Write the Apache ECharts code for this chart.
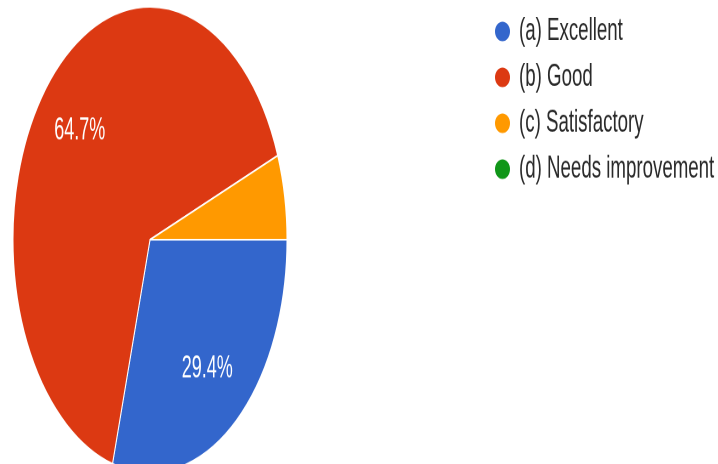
<!DOCTYPE html>
<html>
<head>
<meta charset="utf-8">
<script src="https://cdn.jsdelivr.net/npm/echarts@6/dist/echarts.min.js"></script>
<style>
  html, body { margin: 0; padding: 0; background: #ffffff; overflow: hidden; }
  #wrap { width: 718px; height: 464px; overflow: hidden; position: relative; }
  #chart { width: 718px; height: 273px; transform: scaleY(1.7); transform-origin: 0 0; }
</style>
</head>
<body>
<div id="wrap"><div id="chart"></div></div>
<script>
const categories = ['(a) Excellent', '(b) Good', '(c) Satisfactory', '(d) Needs improvement'];
const counts = [5, 11, 1, 0];
const colors = ['#3366cc', '#dc3912', '#ff9900', '#109618'];

const pieData = categories.map((name, i) => ({ name: name, value: counts[i] }));
const legendData = categories.map(name => ({ name: name, symbolKeepAspect: false }));

const chart = echarts.init(document.getElementById('chart'), null, { devicePixelRatio: 2 });
chart.setOption({
  backgroundColor: '#ffffff',
  animation: false,
  color: colors,
  legend: {
    orient: 'vertical',
    left: 493,
    top: 8.5,
    padding: 0,
    data: legendData,
    icon: 'path://M50,0A50,50,0,1,1,50,100A50,50,0,1,1,50,0Z',
    symbolKeepAspect: false,
    itemWidth: 17,
    itemHeight: 13.5,
    itemGap: 7,
    textStyle: { fontFamily: 'Liberation Sans, Arial, sans-serif', fontSize: 18.7, color: '#2a2a2a', lineHeight: 20, padding: [0, 0, 0, 3] },
    selectedMode: false
  },
  series: [
    {
      type: 'pie',
      center: [150, 141],
      radius: [0, 137],
      startAngle: 0,
      clockwise: true,
      avoidLabelOverlap: false,
      label: { show: false },
      labelLine: { show: false },
      itemStyle: { borderColor: '#ffffff', borderWidth: 1 },
      emphasis: { disabled: true },
      data: pieData
    },
    {
      type: 'pie',
      center: [150, 141],
      radius: [48, 136],
      startAngle: 0,
      clockwise: true,
      silent: true,
      legendHoverLink: false,
      avoidLabelOverlap: false,
      itemStyle: { color: 'rgba(0,0,0,0)', borderWidth: 0 },
      labelLine: { show: false },
      label: {
        show: true,
        position: 'inside',
        color: '#ffffff',
        fontFamily: 'Liberation Sans, Arial, sans-serif',
        fontSize: 18,
        formatter: function (p) { return p.percent >= 10 ? p.percent.toFixed(1) + '%' : ''; }
      },
      emphasis: { disabled: true },
      data: pieData
    }
  ]
});
</script>
</body>
</html>
